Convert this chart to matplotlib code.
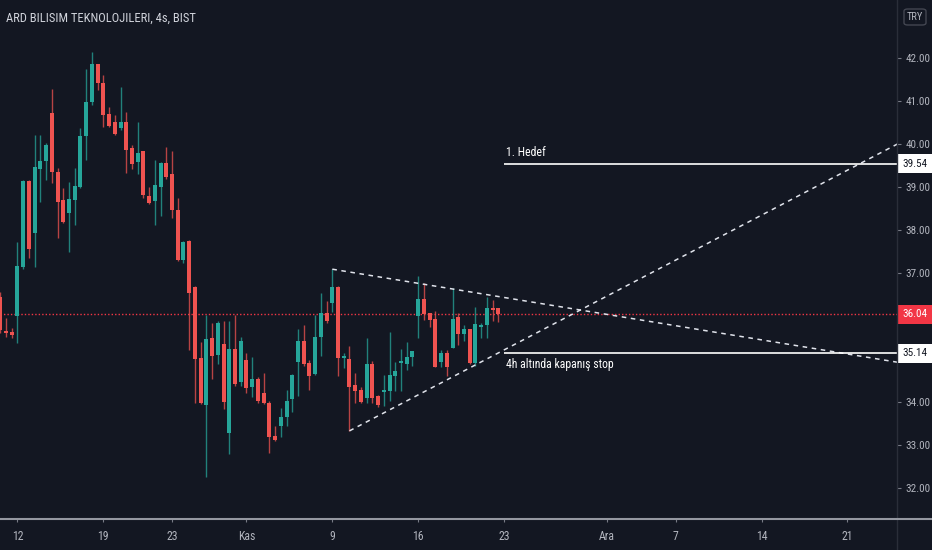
import matplotlib
matplotlib.use("Agg")
import matplotlib.pyplot as plt
import matplotlib.transforms as mtransforms
from matplotlib.patches import Rectangle, FancyBboxPatch
from matplotlib.lines import Line2D
from matplotlib import font_manager
import numpy as np

_avail = {f.name for f in font_manager.fontManager.ttflist}
_fams = [f for f in ['Roboto Condensed', 'Liberation Sans Narrow', 'Open Sans Condensed',
                     'Roboto', 'DejaVu Sans'] if f in _avail]
plt.rcParams['font.family'] = _fams

# ---- data (4h candles, ARD) ----
opens = [36.44, 35.65, 35.63, 36.00, 37.14, 39.14, 37.93, 39.42, 39.60, 40.72,
         39.35, 38.70, 38.40, 38.70, 39.00, 40.19, 40.98, 41.86, 41.42, 40.70,
         40.51, 40.37, 40.51, 39.91, 39.58, 39.84, 38.79, 38.67, 39.00, 39.56,
         39.30, 38.47, 37.30, 37.74, 36.67, 35.02, 33.93, 35.49, 35.09, 35.35,
         33.28, 35.23, 34.47, 34.98, 34.35, 34.53, 34.21, 33.98, 33.21, 33.44,
         33.65, 34.07, 34.93, 35.42, 34.91, 34.65, 35.51, 36.07, 36.30, 36.67,
         35.02, 35.00, 34.40, 34.28, 34.09, 34.88, 34.14, 34.23, 34.26, 34.60,
         34.91, 34.88, 35.05, 36.00, 36.40, 36.07, 35.93, 34.93, 35.14, 35.26,
         35.98, 35.58, 35.70, 34.91, 35.74, 35.79, 36.19, 36.19]
highs = [36.55, 35.95, 35.72, 37.72, 39.16, 39.16, 40.21, 40.21, 40.02, 41.28,
         39.44, 38.98, 39.12, 39.44, 40.37, 41.74, 42.14, 41.86, 41.60, 40.86,
         40.67, 41.33, 40.74, 39.98, 40.51, 39.84, 39.00, 39.63, 39.58, 39.93,
         39.84, 38.74, 37.74, 37.76, 36.69, 35.40, 36.02, 35.84, 35.88, 35.88,
         35.88, 36.02, 35.51, 35.14, 35.05, 34.58, 34.67, 34.02, 33.44, 33.86,
         34.28, 34.65, 35.70, 35.79, 34.98, 36.02, 36.53, 36.35, 37.09, 36.70,
         35.14, 35.30, 34.67, 34.35, 35.49, 34.95, 34.16, 34.63, 35.63, 34.93,
         35.23, 35.40, 35.19, 36.93, 36.77, 36.07, 36.12, 35.21, 35.21, 36.65,
         36.07, 35.79, 35.70, 36.21, 35.84, 36.44, 36.37, 36.19]
lows = [35.60, 35.51, 35.49, 35.37, 37.10, 37.35, 37.14, 38.65, 39.16, 39.09,
        37.81, 38.17, 37.49, 38.12, 38.98, 39.63, 40.91, 41.26, 40.40, 40.40,
        40.21, 40.33, 39.33, 39.42, 39.30, 38.74, 38.60, 38.12, 38.33, 39.19,
        38.28, 37.28, 37.23, 35.21, 33.98, 33.96, 32.26, 34.53, 34.88, 33.84,
        32.79, 34.37, 34.37, 34.21, 34.12, 33.98, 33.95, 32.81, 33.09, 33.19,
        33.44, 33.77, 34.14, 34.84, 34.28, 34.63, 35.07, 35.84, 36.09, 34.60,
        34.79, 33.33, 33.98, 33.98, 33.98, 33.98, 33.88, 33.91, 34.02, 34.26,
        34.26, 34.74, 34.84, 35.49, 35.91, 35.74, 34.81, 34.81, 34.60, 35.26,
        35.33, 35.42, 34.88, 34.84, 35.49, 35.49, 35.88, 35.86]
closes = [35.67, 35.60, 35.56, 37.16, 39.14, 37.56, 39.47, 39.60, 39.98, 39.35,
          38.65, 38.19, 38.72, 39.02, 40.19, 40.98, 41.86, 41.42, 40.67, 40.42,
          40.23, 40.51, 39.86, 39.53, 39.79, 38.81, 38.63, 39.05, 39.56, 39.23,
          38.47, 37.30, 37.72, 36.53, 35.00, 33.98, 35.47, 35.07, 35.84, 34.00,
          35.23, 34.42, 35.42, 34.33, 34.53, 34.02, 33.98, 33.19, 33.12, 33.65,
          34.02, 34.63, 35.42, 34.88, 34.60, 35.51, 36.07, 35.88, 36.67, 35.02,
          35.07, 34.35, 34.26, 34.00, 34.88, 34.09, 33.93, 34.28, 34.63, 34.72,
          34.95, 35.05, 35.19, 36.40, 36.05, 35.91, 34.81, 35.14, 34.81, 35.93,
          35.58, 35.70, 34.91, 35.81, 35.79, 36.19, 36.14, 36.04]

tick_idx = [3, 18, 30, 43, 58, 73, 88, 106, 118, 133, 148]
tick_labels = ['12', '19', '23', 'Kas', '9', '16', '23', 'Ara', '7', '14', '21']
y_ticks = [32, 33, 34, 35, 36, 37, 38, 39, 40, 41, 42]
y_tick_labels = ['32.00', '33.00', '34.00', '35.00', '', '37.00', '38.00', '39.00',
                 '40.00', '41.00', '42.00']

last_price = 36.04
target_price = 39.54
stop_price = 35.14
level_start = 88
upper_tl = ([58, 157], [37.09, 34.92])
lower_tl = ([61, 157], [33.33, 40.02])

# ---- style ----
BG = '#131722'
UP = '#26a69a'
DN = '#ef5350'
TXT = '#b2b5be'

fig = plt.figure(figsize=(9.32, 5.5), dpi=100, facecolor=BG)
W, H = 932, 550
ax = fig.add_axes([0, (H - 519) / H, 897 / W, 519 / H], facecolor=BG)

x = np.arange(len(opens))
o = np.array(opens); c = np.array(closes); h = np.array(highs); l = np.array(lows)
colors = np.where(c >= o, UP, DN)
ax.vlines(x, l, h, colors=colors, linewidth=1.0, alpha=0.75, zorder=2)
ax.bar(x, np.maximum(np.abs(c - o), 0.03), bottom=np.minimum(o, c), width=0.7,
       color=colors, edgecolor='none', zorder=3)

ax.set_xlim(-0.052, 156.65)
ax.set_ylim(31.28, 43.35)

# last price dotted line
ax.axhline(last_price, color='#f23645', linestyle=(0, (1, 1.5)), linewidth=1.0, zorder=1)

# trend lines
ax.plot(upper_tl[0], upper_tl[1], color='#e0e3eb', linestyle=(0, (3, 3)), linewidth=1.1, zorder=4)
ax.plot(lower_tl[0], lower_tl[1], color='#e0e3eb', linestyle=(0, (3, 3)), linewidth=1.1, zorder=4)

# horizontal levels
xmax = 157
ax.hlines([target_price, stop_price], level_start, xmax, colors='white', linewidth=1.2, zorder=4)
ax.text(level_start + 0.3, target_price + 0.12, '1. Hedef', color='white', fontsize=8.5,
        ha='left', va='bottom', zorder=5)
ax.text(level_start + 0.3, stop_price - 0.12, '4h altında kapanış stop', color='white',
        fontsize=8.5, ha='left', va='top', zorder=5)

# axes
for s in ax.spines.values():
    s.set_visible(False)
ax.yaxis.tick_right()
ax.set_yticks(y_ticks)
ax.set_yticklabels(y_tick_labels)
ax.tick_params(axis='y', colors='#787b86', labelcolor=TXT, labelsize=8, length=3, pad=3)
ax.set_xticks(tick_idx)
ax.set_xticklabels(tick_labels)
ax.tick_params(axis='x', colors='#787b86', labelcolor=TXT, labelsize=8.5, length=2, pad=6)
for lab in ax.get_yticklabels():
    lab.set_horizontalalignment('left')

# price labels on right axis
trans = mtransforms.blended_transform_factory(ax.transAxes, ax.transData)
box_h = 19 / 43.0
for val, fc, tc in [(target_price, 'white', '#131722'), (last_price, '#f23645', 'white'),
                    (stop_price, 'white', '#131722')]:
    r = Rectangle((1.0, val - box_h / 2), 35 / 897, box_h, transform=trans,
                  facecolor=fc, edgecolor='none', clip_on=False, zorder=10)
    ax.add_patch(r)
    ax.text(1.0 + 5 / 897, val, f'{val:.2f}', transform=trans, color=tc, fontsize=8,
            ha='left', va='center', clip_on=False, zorder=11)

# separators
fig.add_artist(Line2D([897 / W, 897 / W], [0, 1], color='#2a2e39', linewidth=1.0))
fig.add_artist(Line2D([0, 1], [(H - 519) / H] * 2, color='#9598a1', linewidth=1.5))

# TRY box
fig.add_artist(FancyBboxPatch((904 / W, 1 - 25 / H), 22 / W, 16 / H,
                              boxstyle='round,pad=0,rounding_size=0.004',
                              transform=fig.transFigure, facecolor='none',
                              edgecolor='#434651', linewidth=1.0))
fig.text(915 / W, 1 - 17 / H, 'TRY', color=TXT, fontsize=7.5, ha='center', va='center')

# title
fig.text(6 / W, 1 - 18 / H, 'ARD BILISIM TEKNOLOJILERI, 4s, BIST', color='#d1d4dc',
         fontsize=9, ha='left', va='center')

fig.savefig('out.png', dpi=100, facecolor=BG)
